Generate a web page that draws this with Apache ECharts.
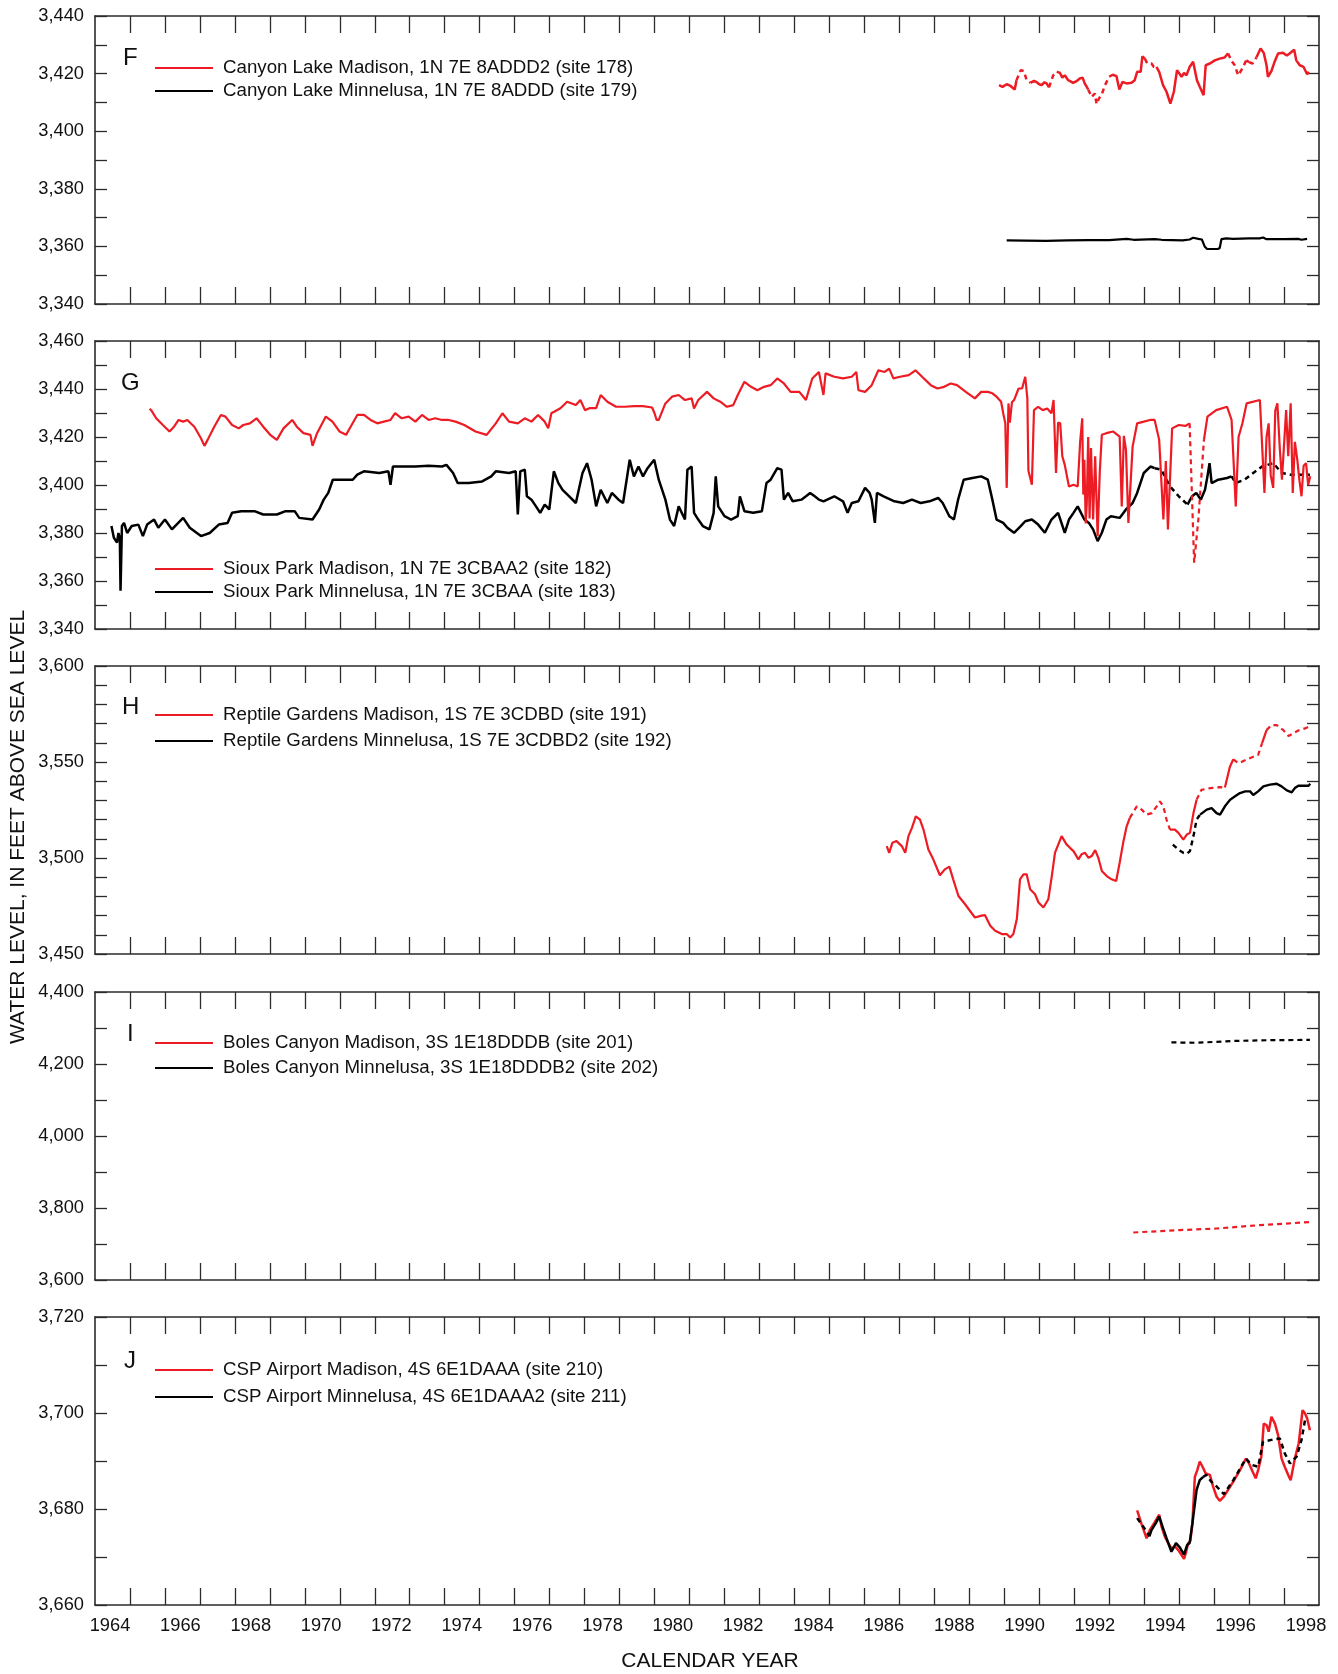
<!DOCTYPE html>
<html><head><meta charset="utf-8">
<script src="https://cdn.jsdelivr.net/npm/echarts@6/dist/echarts.min.js"></script>
<style>html,body{margin:0;padding:0;background:#fff}#c{width:1338px;height:1674px}</style>
</head><body><div id="c"></div>
<script>
// ---------------- DATA (year, water level in ft) ----------------
const yearTicks = [1965,1966,1967,1968,1969,1970,1971,1972,1973,1974,1975,1976,1977,1978,1979,1980,1981,1982,1983,1984,1985,1986,1987,1988,1989,1990,1991,1992,1993,1994,1995,1996,1997,1998];
const yearLabels = [1964,1966,1968,1970,1972,1974,1976,1978,1980,1982,1984,1986,1988,1990,1992,1994,1996,1998];

// Panel F — Canyon Lake
const fMadisonSolid = [
 [[1989.85,3416.0],[1989.95,3415.4],[1990.07,3416.3],[1990.18,3415.7],[1990.3,3414.5],[1990.35,3417.7]],
 [[1990.75,3416.8],[1990.85,3417.5],[1990.92,3417.1],[1991.0,3416.3],[1991.07,3416.0],[1991.15,3417.0],[1991.21,3416.6],[1991.28,3415.2]],
 [[1991.5,3420.6],[1991.59,3420.3],[1991.66,3418.6],[1991.73,3419.4],[1991.83,3417.7],[1991.97,3416.8],[1992.08,3417.5],[1992.16,3418.3],[1992.24,3418.6],[1992.3,3416.6],[1992.4,3414.5]],
 [[1993.0,3418.9],[1993.1,3419.6],[1993.21,3419.1],[1993.29,3414.5],[1993.38,3417.1],[1993.5,3416.6],[1993.64,3416.8],[1993.73,3417.7],[1993.8,3420.6],[1993.9,3420.6],[1993.95,3426.0],[1994.02,3425.2]],
 [[1994.35,3422.3],[1994.43,3420.6],[1994.54,3416.0],[1994.64,3413.7],[1994.75,3409.6],[1994.85,3413.7],[1994.94,3421.2],[1995.07,3418.9],[1995.14,3420.2],[1995.21,3419.4],[1995.3,3422.3],[1995.4,3424.1],[1995.45,3423.5],[1995.51,3417.7],[1995.59,3415.4],[1995.7,3412.5],[1995.76,3422.9],[1995.88,3423.5],[1996.02,3424.6],[1996.16,3425.2],[1996.3,3425.6],[1996.4,3427.0]],
 [[1996.92,3424.6],[1997.0,3424.0]],
 [[1997.21,3425.6],[1997.33,3428.7],[1997.42,3427.2],[1997.5,3422.9],[1997.54,3418.9],[1997.64,3420.9],[1997.73,3424.1],[1997.83,3427.0],[1997.97,3427.2],[1998.08,3426.3],[1998.16,3427.0],[1998.29,3428.3],[1998.35,3424.6],[1998.45,3422.9],[1998.56,3422.3],[1998.66,3419.8],[1998.71,3420.6]]
];
const fMadisonDashed = [
 [[1990.35,3417.7],[1990.47,3421.2],[1990.56,3420.9],[1990.64,3417.7],[1990.75,3416.8]],
 [[1991.28,3415.2],[1991.4,3419.4],[1991.5,3420.6]],
 [[1992.4,3414.5],[1992.5,3411.9],[1992.59,3413.1],[1992.64,3409.4],[1992.71,3411.4],[1992.78,3412.5],[1992.88,3416.0],[1993.0,3418.9]],
 [[1994.02,3425.2],[1994.09,3423.5],[1994.21,3423.5],[1994.28,3422.3],[1994.35,3422.3]],
 [[1996.4,3427.0],[1996.5,3424.4],[1996.59,3422.9],[1996.69,3419.4],[1996.78,3421.2],[1996.92,3424.6]],
 [[1997.0,3424.0],[1997.1,3423.5],[1997.21,3425.6]]
];
const fMinnelusaSolid = [
 [[1990.07,3362.1],[1990.6,3362.0],[1991.2,3361.9],[1991.8,3362.1],[1992.4,3362.2],[1993.0,3362.2],[1993.5,3362.6],[1993.7,3362.3],[1994.3,3362.5],[1994.5,3362.3],[1995.1,3362.1],[1995.3,3362.4],[1995.4,3363.0],[1995.55,3362.6],[1995.65,3362.4],[1995.73,3360.0],[1995.8,3359.1],[1996.1,3359.1],[1996.16,3359.4],[1996.21,3362.5],[1996.35,3362.8],[1996.4,3363.3],[1996.54,3362.6],[1997.0,3362.8],[1997.3,3362.8],[1997.4,3363.1],[1997.5,3362.5],[1998.0,3362.5],[1998.4,3362.6],[1998.5,3362.3],[1998.66,3362.6]]
];

// Panel G — Sioux Park
const gMadisonSolid = [
 [[1965.56,3431.8],[1965.62,3430.9],[1965.75,3427.8],[1965.94,3425.0],[1966.13,3422.3],[1966.26,3424.3],[1966.39,3427.1],[1966.52,3426.4],[1966.64,3427.1],[1966.84,3424.3],[1967.03,3419.5],[1967.13,3416.3],[1967.22,3418.8],[1967.41,3424.3],[1967.6,3429.2],[1967.73,3428.5],[1967.92,3425.0],[1968.11,3423.6],[1968.24,3425.0],[1968.43,3425.7],[1968.62,3427.8],[1968.81,3424.3],[1969.01,3420.9],[1969.2,3418.8],[1969.39,3423.6],[1969.64,3427.1],[1969.77,3424.3],[1969.96,3421.6],[1970.16,3420.9],[1970.22,3416.3],[1970.35,3421.6],[1970.6,3428.5],[1970.79,3426.4],[1970.99,3422.3],[1971.18,3420.9],[1971.31,3424.3],[1971.5,3429.2],[1971.69,3429.2],[1971.88,3427.1],[1972.07,3425.7],[1972.26,3426.4],[1972.45,3427.1],[1972.58,3429.9],[1972.77,3427.8],[1972.97,3428.5],[1973.16,3426.4],[1973.35,3429.2],[1973.54,3427.1],[1973.73,3427.8],[1973.92,3427.1],[1974.11,3427.1],[1974.31,3426.4],[1974.56,3425.0],[1974.88,3422.3],[1975.2,3420.9],[1975.46,3425.7],[1975.65,3429.9],[1975.84,3426.4],[1976.09,3425.7],[1976.29,3427.8],[1976.48,3426.4],[1976.67,3429.2],[1976.86,3426.4],[1976.96,3423.6],[1977.05,3429.9],[1977.31,3432.0],[1977.5,3434.7],[1977.75,3433.3],[1977.88,3435.4],[1978.01,3431.2],[1978.14,3432.0],[1978.33,3432.0],[1978.46,3437.5],[1978.65,3434.7],[1978.9,3432.6],[1979.16,3432.6],[1979.41,3432.9],[1979.67,3432.9],[1979.93,3432.3],[1980.0,3429.9],[1980.06,3427.1],[1980.12,3427.1],[1980.31,3434.0],[1980.5,3436.8],[1980.69,3437.5],[1980.87,3435.4],[1981.06,3436.1],[1981.13,3431.9],[1981.25,3435.4],[1981.5,3438.8],[1981.69,3436.1],[1981.88,3434.7],[1982.07,3432.6],[1982.25,3433.3],[1982.38,3437.5],[1982.57,3443.0],[1982.76,3440.9],[1982.94,3439.5],[1983.13,3440.9],[1983.32,3441.6],[1983.51,3444.4],[1983.7,3442.3],[1983.89,3438.8],[1984.14,3438.8],[1984.33,3435.4],[1984.51,3444.4],[1984.7,3447.1],[1984.83,3437.5],[1984.89,3446.5],[1985.14,3445.1],[1985.39,3444.4],[1985.64,3445.1],[1985.77,3447.1],[1985.83,3439.5],[1986.02,3438.8],[1986.21,3441.6],[1986.4,3447.8],[1986.58,3447.1],[1986.71,3448.5],[1986.83,3444.4],[1987.02,3445.1],[1987.27,3445.8],[1987.46,3447.8],[1987.65,3445.1],[1987.9,3441.6],[1988.09,3440.2],[1988.28,3440.9],[1988.47,3442.3],[1988.65,3441.6],[1988.9,3438.8],[1989.16,3436.1],[1989.34,3438.8],[1989.53,3438.8],[1989.66,3438.2],[1989.78,3436.8],[1989.91,3434.7],[1989.97,3429.9],[1990.03,3425.7],[1990.07,3398.8],[1990.12,3434.0],[1990.16,3426.0],[1990.22,3434.5],[1990.28,3435.4],[1990.41,3440.2],[1990.51,3440.2],[1990.6,3445.1],[1990.66,3436.1],[1990.69,3406.0],[1990.79,3400.1],[1990.85,3431.2],[1990.97,3432.6],[1991.1,3431.2],[1991.23,3431.9],[1991.35,3429.9],[1991.41,3435.4],[1991.48,3405.0],[1991.54,3426.0],[1991.6,3425.7],[1991.66,3412.0],[1991.73,3408.4],[1991.85,3399.4],[1991.98,3400.1],[1992.1,3399.4],[1992.17,3418.0],[1992.23,3427.8],[1992.26,3396.0],[1992.29,3410.5],[1992.33,3384.0],[1992.36,3392.5],[1992.4,3420.0],[1992.44,3386.0],[1992.48,3415.4],[1992.54,3385.6],[1992.6,3412.0],[1992.67,3378.7],[1992.73,3405.0],[1992.79,3420.9],[1992.92,3421.6],[1993.11,3422.3],[1993.3,3420.2],[1993.36,3391.1],[1993.42,3420.5],[1993.48,3414.7],[1993.55,3384.2],[1993.67,3416.0],[1993.8,3425.7],[1993.99,3426.4],[1994.17,3427.1],[1994.3,3427.1],[1994.43,3418.8],[1994.55,3385.6],[1994.62,3410.0],[1994.68,3381.5],[1994.8,3423.6],[1994.99,3425.0],[1995.18,3424.6],[1995.3,3425.7]],
 [[1995.71,3418.8],[1995.81,3428.5],[1996.06,3431.2],[1996.37,3432.6],[1996.5,3427.1],[1996.62,3391.1],[1996.7,3420.0],[1996.81,3425.7],[1996.93,3434.0],[1997.31,3435.4],[1997.44,3396.7],[1997.5,3420.0],[1997.56,3425.7],[1997.62,3404.0],[1997.69,3398.8],[1997.75,3431.0],[1997.81,3434.0],[1997.88,3415.0],[1997.94,3402.2],[1998.06,3431.2],[1998.12,3412.0],[1998.19,3434.0],[1998.25,3396.7],[1998.31,3418.0],[1998.38,3410.5],[1998.44,3402.0],[1998.5,3395.3],[1998.56,3408.0],[1998.63,3409.1],[1998.69,3400.0],[1998.75,3403.6]]
];
const gMadisonDashed = [
 [[1995.3,3425.7],[1995.43,3367.6],[1995.55,3385.6],[1995.71,3418.8]]
];
const gMinnelusaSolid = [
 [[1964.47,3382.9],[1964.54,3378.0],[1964.63,3376.0],[1964.67,3380.0],[1964.71,3378.0],[1964.73,3355.9],[1964.77,3382.9],[1964.83,3384.2],[1964.92,3380.0],[1965.05,3382.9],[1965.24,3383.5],[1965.37,3378.7],[1965.49,3383.5],[1965.69,3385.6],[1965.81,3382.2],[1966.0,3385.6],[1966.2,3381.5],[1966.52,3386.3],[1966.71,3382.2],[1967.03,3378.7],[1967.28,3380.0],[1967.54,3383.5],[1967.79,3384.2],[1967.92,3388.4],[1968.18,3389.1],[1968.56,3389.1],[1968.81,3387.7],[1969.2,3387.7],[1969.45,3389.1],[1969.71,3389.1],[1969.84,3386.3],[1970.22,3385.6],[1970.41,3389.8],[1970.54,3393.9],[1970.67,3396.7],[1970.8,3402.2],[1970.99,3402.2],[1971.37,3402.2],[1971.5,3404.3],[1971.69,3405.7],[1972.13,3405.0],[1972.39,3405.7],[1972.45,3400.1],[1972.52,3407.7],[1972.77,3407.7],[1973.16,3407.7],[1973.54,3408.0],[1973.92,3407.7],[1974.05,3408.4],[1974.24,3405.0],[1974.37,3400.8],[1974.69,3400.8],[1975.07,3401.5],[1975.33,3403.6],[1975.46,3405.7],[1975.84,3405.0],[1976.03,3405.7],[1976.09,3387.7],[1976.16,3405.7],[1976.29,3406.4],[1976.35,3395.3],[1976.48,3393.9],[1976.61,3391.1],[1976.73,3388.4],[1976.86,3391.8],[1976.99,3389.8],[1977.12,3405.7],[1977.25,3400.8],[1977.37,3398.0],[1977.56,3395.3],[1977.75,3392.5],[1977.94,3405.0],[1978.07,3409.1],[1978.2,3402.2],[1978.33,3391.1],[1978.46,3398.0],[1978.65,3392.5],[1978.78,3396.7],[1978.97,3393.9],[1979.1,3392.5],[1979.29,3410.5],[1979.41,3403.6],[1979.54,3407.7],[1979.67,3403.6],[1979.8,3407.0],[1979.99,3410.5],[1980.12,3402.2],[1980.31,3393.9],[1980.44,3385.6],[1980.56,3382.9],[1980.69,3391.1],[1980.87,3385.6],[1980.94,3406.4],[1981.06,3407.7],[1981.13,3388.4],[1981.25,3385.6],[1981.38,3382.9],[1981.57,3381.5],[1981.69,3388.4],[1981.75,3403.6],[1981.82,3391.1],[1982.0,3387.0],[1982.19,3385.6],[1982.38,3387.0],[1982.44,3395.3],[1982.57,3389.1],[1982.82,3388.4],[1983.07,3389.1],[1983.2,3400.8],[1983.32,3402.2],[1983.51,3407.0],[1983.63,3406.4],[1983.7,3393.9],[1983.82,3396.7],[1983.95,3393.2],[1984.2,3393.9],[1984.33,3395.3],[1984.45,3396.7],[1984.58,3395.3],[1984.7,3393.9],[1984.83,3393.2],[1985.14,3395.3],[1985.39,3393.2],[1985.52,3388.4],[1985.64,3392.5],[1985.83,3393.2],[1986.02,3398.8],[1986.15,3396.7],[1986.21,3393.9],[1986.3,3384.2],[1986.36,3396.7],[1986.55,3395.3],[1986.86,3393.2],[1987.11,3392.5],[1987.36,3393.9],[1987.61,3392.5],[1987.86,3393.2],[1988.11,3394.6],[1988.24,3392.5],[1988.43,3387.0],[1988.56,3385.6],[1988.68,3393.9],[1988.84,3402.2],[1989.09,3402.9],[1989.34,3403.6],[1989.53,3402.2],[1989.66,3393.9],[1989.78,3385.6],[1989.97,3384.2],[1990.09,3382.2],[1990.28,3380.1],[1990.47,3382.9],[1990.6,3384.9],[1990.79,3385.6],[1990.97,3383.5],[1991.16,3380.1],[1991.35,3385.6],[1991.54,3388.4],[1991.73,3380.1],[1991.85,3385.6],[1991.98,3388.4],[1992.1,3391.1],[1992.29,3385.6],[1992.42,3384.2],[1992.54,3381.5],[1992.67,3376.6],[1992.79,3380.1],[1992.92,3385.6],[1993.05,3387.0],[1993.3,3386.3],[1993.48,3389.8],[1993.67,3392.5],[1993.8,3396.7],[1993.99,3405.0],[1994.18,3407.7],[1994.3,3407.0]],
 [[1995.24,3391.8],[1995.37,3395.3],[1995.49,3396.7],[1995.62,3393.9],[1995.74,3398.0],[1995.81,3403.6],[1995.87,3409.1],[1995.93,3400.8],[1996.12,3402.2],[1996.37,3402.9],[1996.5,3403.6]]
];
const gMinnelusaDashed = [
 [[1994.3,3407.0],[1994.49,3406.4],[1994.74,3399.4],[1994.99,3395.3],[1995.24,3391.8]],
 [[1996.5,3403.6],[1996.62,3400.8],[1996.87,3402.2],[1997.12,3405.0],[1997.37,3407.7],[1997.69,3409.1],[1997.94,3405.0],[1998.19,3404.3],[1998.74,3404.3]]
];

// Panel H — Reptile Gardens
const hMadisonSolid = [
 [[1986.64,3506.2],[1986.71,3502.7],[1986.8,3507.9],[1986.92,3508.8],[1987.07,3506.2],[1987.17,3502.7],[1987.26,3511.4],[1987.36,3515.7],[1987.47,3521.7],[1987.59,3520.0],[1987.69,3514.8],[1987.83,3504.4],[1987.97,3499.3],[1988.16,3491.0],[1988.3,3494.1],[1988.43,3495.5],[1988.54,3488.9],[1988.69,3480.2],[1988.88,3475.9],[1989.16,3469.0],[1989.35,3470.0],[1989.45,3470.2],[1989.6,3464.7],[1989.74,3462.1],[1989.93,3460.4],[1990.07,3460.4],[1990.17,3458.6],[1990.26,3460.4],[1990.36,3468.2],[1990.45,3488.9],[1990.55,3491.5],[1990.64,3491.5],[1990.74,3483.7],[1990.88,3481.1],[1990.98,3476.8],[1991.12,3474.2],[1991.26,3478.5],[1991.36,3490.6],[1991.45,3502.7],[1991.64,3511.4],[1991.78,3507.1],[1991.88,3505.3],[1991.98,3503.6],[1992.12,3499.3],[1992.21,3501.9],[1992.31,3502.7],[1992.41,3500.1],[1992.5,3501.0],[1992.6,3504.1],[1992.69,3500.1],[1992.79,3493.2],[1992.93,3490.6],[1993.07,3488.9],[1993.2,3488.0],[1993.3,3497.5],[1993.4,3507.9],[1993.5,3516.5],[1993.59,3520.9]],
 [[1994.74,3514.8],[1994.88,3514.8],[1994.98,3513.1],[1995.12,3509.6],[1995.22,3512.2],[1995.31,3513.1],[1995.41,3523.4],[1995.5,3530.4]],
 [[1996.31,3536.7],[1996.45,3547.4],[1996.55,3551.4]],
 [[1997.37,3559.7],[1997.5,3566.6]]
];
const hMadisonDashed = [
 [[1993.59,3520.9],[1993.79,3526.9],[1993.93,3525.2],[1994.07,3522.6],[1994.22,3523.4],[1994.36,3526.9],[1994.45,3529.5],[1994.55,3526.9],[1994.64,3520.0],[1994.74,3514.8]],
 [[1995.5,3530.4],[1995.64,3535.5],[1995.89,3536.4],[1996.17,3536.9],[1996.31,3536.7]],
 [[1996.55,3551.4],[1996.69,3549.5],[1996.78,3550.0],[1996.98,3551.7],[1997.26,3553.7],[1997.37,3559.7]],
 [[1997.5,3566.6],[1997.64,3569.2],[1997.79,3569.2],[1997.98,3566.6],[1998.13,3563.5],[1998.27,3565.0],[1998.41,3566.4],[1998.6,3567.5],[1998.75,3568.7]]
];
const hMinnelusaSolid = [
 [[1995.6,3522.6],[1995.64,3521.7],[1995.79,3525.2],[1995.93,3526.0],[1996.07,3523.4],[1996.17,3522.6],[1996.31,3526.9],[1996.46,3530.4],[1996.6,3532.1],[1996.74,3533.8],[1996.89,3534.7],[1997.03,3534.7],[1997.12,3532.8],[1997.26,3534.7],[1997.41,3537.3],[1997.6,3538.2],[1997.79,3538.7],[1997.93,3537.3],[1998.08,3535.2],[1998.22,3534.2],[1998.31,3536.4],[1998.41,3537.6],[1998.55,3537.6],[1998.7,3537.6],[1998.75,3538.7]]
];
const hMinnelusaDashed = [
 [[1994.82,3507.0],[1994.98,3504.4],[1995.12,3502.7],[1995.22,3502.2],[1995.31,3503.6],[1995.41,3511.4],[1995.5,3520.0],[1995.6,3522.6]]
];

// Panel I — Boles Canyon
const iMadisonDashed = [
 [[1993.69,3732],[1995.02,3738.6],[1996.07,3743],[1997.31,3752.5],[1998.74,3760.8]]
];
const iMinnelusaDashed = [
 [[1994.78,4260],[1995.5,4259],[1996.55,4264],[1997.5,4266],[1998.74,4267]]
];

// Panel J — CSP Airport
const jMadisonSolid = [
 [[1993.8,3679.7],[1993.92,3677.0],[1994.07,3673.9],[1994.16,3675.6],[1994.3,3677.2],[1994.43,3678.8],[1994.5,3676.3],[1994.59,3674.3],[1994.69,3672.9],[1994.78,3671.8],[1994.88,3672.2],[1994.97,3671.5],[1995.07,3670.4],[1995.14,3669.6],[1995.19,3670.8],[1995.26,3672.9],[1995.32,3673.3],[1995.38,3677.0],[1995.45,3686.7],[1995.52,3688.1],[1995.59,3689.9],[1995.67,3688.8],[1995.76,3687.4],[1995.88,3687.1],[1995.97,3684.7],[1996.07,3682.6],[1996.16,3681.7],[1996.28,3682.6],[1996.4,3684.0],[1996.55,3685.7],[1996.74,3688.1],[1996.91,3690.5],[1997.0,3689.5],[1997.1,3687.8],[1997.19,3686.4],[1997.26,3688.1],[1997.35,3690.9],[1997.42,3697.8],[1997.5,3697.5],[1997.56,3696.1],[1997.64,3699.2],[1997.74,3697.8],[1997.83,3695.4],[1997.93,3690.5],[1998.02,3688.8],[1998.12,3687.1],[1998.19,3686.0],[1998.31,3690.5],[1998.42,3693.7],[1998.53,3700.6],[1998.6,3699.9],[1998.66,3698.9],[1998.74,3696.4]]
];
const jMinnelusaSolid = [
 [[1994.15,3674.3],[1994.21,3675.6],[1994.33,3677.0],[1994.43,3678.4],[1994.54,3676.0],[1994.64,3673.9],[1994.78,3671.1],[1994.91,3672.9],[1995.02,3672.0],[1995.14,3670.5],[1995.23,3672.5],[1995.3,3672.9],[1995.38,3677.0],[1995.5,3684.0],[1995.59,3686.0],[1995.69,3686.7]]
];
const jMinnelusaDashed = [
 [[1993.8,3678.1],[1993.92,3676.9],[1994.07,3675.3],[1994.15,3674.3]],
 [[1995.69,3686.7],[1995.78,3687.1],[1995.92,3685.7],[1996.07,3684.7],[1996.28,3683.1],[1996.55,3686.0],[1996.91,3690.5],[1997.07,3689.2],[1997.26,3688.8],[1997.4,3694.0],[1997.64,3694.4],[1997.88,3694.7],[1998.02,3691.6],[1998.17,3689.5],[1998.36,3690.9],[1998.5,3694.4],[1998.6,3698.5]]
];

// ---------------- LAYOUT / STYLE ----------------
const RED = '#ed1c24', BLACK = '#000000', FRAME = '#2b2b2b';
const FONT = '"Liberation Sans", Arial, Helvetica, sans-serif';

const panels = [
  {letter:'F', top:16, yMin:3340, yMax:3440, step:10, lab:20, letterX:123, letterY:58, rows:[68,91],
   names:['Canyon Lake Madison, 1N 7E 8ADDD2 (site 178)','Canyon Lake Minnelusa, 1N 7E 8ADDD (site 179)']},
  {letter:'G', top:341, yMin:3340, yMax:3460, step:10, lab:20, letterX:121, letterY:383, rows:[569,592],
   names:['Sioux Park Madison, 1N 7E 3CBAA2 (site 182)','Sioux Park Minnelusa, 1N 7E 3CBAA (site 183)']},
  {letter:'H', top:666, yMin:3450, yMax:3600, step:10, lab:50, letterX:122, letterY:707, rows:[715,741],
   names:['Reptile Gardens Madison, 1S 7E 3CDBD (site 191)','Reptile Gardens Minnelusa, 1S 7E 3CDBD2 (site 192)']},
  {letter:'I', top:992, yMin:3600, yMax:4400, step:100, lab:200, letterX:127, letterY:1034, rows:[1043,1068],
   names:['Boles Canyon Madison, 3S 1E18DDDB (site 201)','Boles Canyon Minnelusa, 3S 1E18DDDB2 (site 202)']},
  {letter:'J', top:1317, yMin:3660, yMax:3720, step:10, lab:20, letterX:124, letterY:1361, rows:[1370,1397],
   names:['CSP Airport Madison, 4S 6E1DAAA (site 210)','CSP Airport Minnelusa, 4S 6E1DAAA2 (site 211)']}
];
const seriesSets = [
  [{c:RED, solid:fMadisonSolid, dashed:fMadisonDashed, w:2.5, z:3},{c:BLACK, solid:fMinnelusaSolid, dashed:[], w:2.2, z:2}],
  [{c:RED, solid:gMadisonSolid, dashed:gMadisonDashed, w:2.2, z:3},{c:BLACK, solid:gMinnelusaSolid, dashed:gMinnelusaDashed, w:2.5, z:2}],
  [{c:RED, solid:hMadisonSolid, dashed:hMadisonDashed, w:2.2, z:3},{c:BLACK, solid:hMinnelusaSolid, dashed:hMinnelusaDashed, w:2.4, z:2}],
  [{c:RED, solid:[], dashed:iMadisonDashed, w:2.2, z:3},{c:BLACK, solid:[], dashed:iMinnelusaDashed, w:2.2, z:2}],
  [{c:RED, solid:jMadisonSolid, dashed:[], w:2.5, z:2},{c:BLACK, solid:jMinnelusaSolid, dashed:jMinnelusaDashed, w:2.5, z:3}]
];

const fmt = v => String(v).replace(/\B(?=(\d{3})+(?!\d))/g, ',');
const grid = [], xAxis = [], yAxis = [], series = [], legend = [], graphic = [];
const H = 288;
// label anchor within each labelled year (slightly drifting right across the axis, as in the original)
const labelPos = y => y + 0.43 + (y - 1964) * 0.0058;

panels.forEach((p, i) => {
  grid.push({left:95, right:19, top:p.top, height:H, containLabel:false});
  const last = (i === panels.length - 1);
  const xBase = {type:'value', gridIndex:i, min:1964, max:1999,
    splitLine:{show:false},
    axisLine:{show:true, onZero:false, lineStyle:{color:FRAME, width:1.6}},
    axisTick:{show:true, inside:true, length:17, customValues:yearTicks, lineStyle:{color:FRAME, width:1.3}}};
  xAxis.push(Object.assign({}, xBase, {position:'bottom',
    axisLabel: last ? {show:true, customValues:yearLabels.map(labelPos), formatter: v => String(Math.floor(v)),
      fontSize:18.3, color:'#111', fontFamily:FONT, margin:12} : {show:false}}));
  xAxis.push(Object.assign({}, xBase, {position:'top', axisLabel:{show:false}}));
  const yBase = {type:'value', gridIndex:i, min:p.yMin, max:p.yMax, interval:p.step,
    splitLine:{show:false},
    axisLine:{show:true, onZero:false, lineStyle:{color:FRAME, width:1.6}},
    axisTick:{show:true, inside:true, length:12, lineStyle:{color:FRAME, width:1.3}}};
  yAxis.push(Object.assign({}, yBase, {position:'left',
    axisLabel:{show:true, fontSize:18.3, color:'#111', fontFamily:FONT, margin:11,
      formatter: v => ((v - p.yMin) % p.lab === 0 ? fmt(v) : '')}}));
  yAxis.push(Object.assign({}, yBase, {position:'right', axisLabel:{show:false}}));

  seriesSets[i].forEach((s, k) => {
    const name = p.names[k];
    const mk = (seg, dashed) => ({type:'line', name:name, xAxisIndex:2*i, yAxisIndex:2*i,
      data:seg, symbol:'none', showSymbol:false, color:s.c, z:s.z, animation:false, silent:true,
      lineStyle:{color:s.c, width:s.w, type: dashed ? [5,4] : 'solid'}});
    s.solid.forEach(seg => series.push(mk(seg, false)));
    s.dashed.forEach(seg => series.push(mk(seg, true)));
    legend.push({show:true, left:155, top:p.rows[k] - 10, padding:0, orient:'horizontal',
      icon:'rect', itemWidth:58, itemHeight:2, selectedMode:false,
      data:[{name:name, itemStyle:{color:s.c}}],
      textStyle:{fontSize:18.7, lineHeight:20, color:'#111', fontFamily:FONT, padding:[0,0,0,5]}});
  });

  graphic.push({type:'text', left:p.letterX, top:p.letterY - 12,
    style:{text:p.letter, fill:'#111', font:'24px ' + FONT}});
});

graphic.push({type:'text', x:18, y:827, rotation:Math.PI/2,
  style:{text:'WATER LEVEL, IN FEET ABOVE SEA LEVEL', font:'21px ' + FONT, fill:'#111', align:'center', verticalAlign:'middle'}});
graphic.push({type:'text', x:710, y:1661,
  style:{text:'CALENDAR YEAR', font:'21px ' + FONT, fill:'#111', align:'center', verticalAlign:'middle'}});

const chart = echarts.init(document.getElementById('c'), null, {renderer:'canvas'});
chart.setOption({animation:false, backgroundColor:'#fff', grid, xAxis, yAxis, series, legend, graphic});
</script></body></html>
